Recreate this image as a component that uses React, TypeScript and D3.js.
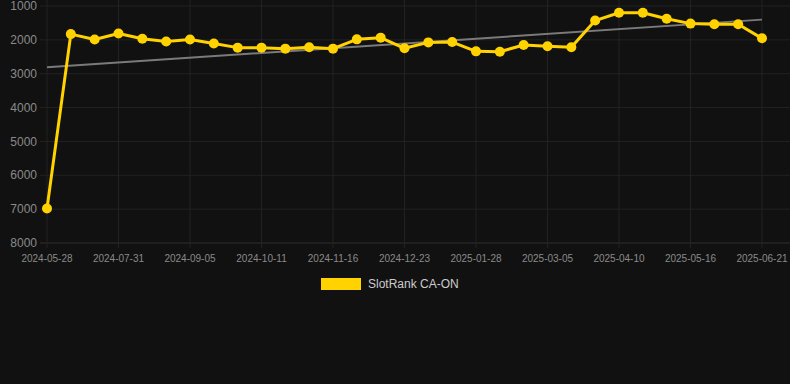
import { useEffect, useRef } from "react";
import * as d3 from "d3";

// category labels for each data point (every 3rd is shown on the axis)
const dates = [
  "2024-05-28", "2024-07-07", "2024-07-19", "2024-07-31", "2024-08-12", "2024-08-24",
  "2024-09-05", "2024-09-17", "2024-09-29", "2024-10-11", "2024-10-23", "2024-11-04",
  "2024-11-16", "2024-11-28", "2024-12-11", "2024-12-23", "2025-01-04", "2025-01-16",
  "2025-01-28", "2025-02-09", "2025-02-21", "2025-03-05", "2025-03-17", "2025-03-29",
  "2025-04-10", "2025-04-22", "2025-05-04", "2025-05-16", "2025-05-28", "2025-06-09",
  "2025-06-21",
];

const ranks = [
  6980, 1830, 1990, 1810, 1965, 2050, 1990, 2110, 2230, 2230, 2260, 2220, 2260, 1985,
  1935, 2250, 2075, 2065, 2340, 2350, 2150, 2190, 2220, 1430, 1200, 1200, 1375, 1520,
  1540, 1540, 1955,
];

const yTicks = [1000, 2000, 3000, 4000, 5000, 6000, 7000, 8000];
const seriesName = "SlotRank CA-ON";

export default function App() {
  const ref = useRef<SVGSVGElement>(null);

  useEffect(() => {
    const svg = d3.select(ref.current);
    svg.selectAll("*").remove();

    const W = 790;
    const H = 384;
    const FONT = "'Liberation Sans', Arial, Helvetica, sans-serif";

    svg.append("rect").attr("width", W).attr("height", H).attr("fill", "#111111");

    const x = d3.scalePoint<string>().domain(dates).range([47, 762]);
    const y = d3.scaleLinear().domain([1000, 8000]).range([6, 243]);

    // grid
    const grid = svg.append("g");
    grid.selectAll("line.h")
      .data(yTicks)
      .join("line")
      .attr("x1", 40)
      .attr("x2", W)
      .attr("y1", d => y(d))
      .attr("y2", d => y(d))
      .attr("stroke", d => (d === 8000 ? "#2e2e2e" : "#222222"))
      .attr("stroke-width", 1);

    const shown = dates.filter((_, i) => i % 3 === 0);
    grid.selectAll("line.v")
      .data(shown)
      .join("line")
      .attr("x1", d => x(d)!)
      .attr("x2", d => x(d)!)
      .attr("y1", 0)
      .attr("y2", 248)
      .attr("stroke", "#222222")
      .attr("stroke-width", 1);

    // y labels
    svg.append("g")
      .selectAll("text")
      .data(yTicks)
      .join("text")
      .attr("x", 37)
      .attr("y", d => y(d))
      .attr("dy", "0.35em")
      .attr("text-anchor", "end")
      .attr("fill", "#8a8a8a")
      .style("font", `12px ${FONT}`)
      .text(d => String(d));

    // x labels
    svg.append("g")
      .selectAll("text")
      .data(shown)
      .join("text")
      .attr("x", d => x(d)!)
      .attr("y", 262)
      .attr("text-anchor", "middle")
      .attr("fill", "#8a8a8a")
      .style("font", `10px ${FONT}`)
      .text(d => d);

    // least-squares trend line
    const n = ranks.length;
    const mx = d3.mean(ranks, (_, i) => i)!;
    const my = d3.mean(ranks)!;
    let num = 0;
    let den = 0;
    ranks.forEach((v, i) => {
      num += (i - mx) * (v - my);
      den += (i - mx) * (i - mx);
    });
    const slope = num / den;
    const trend = [0, n - 1].map(i => ({ i, v: my + slope * (i - mx) }));
    svg.append("path")
      .datum(trend)
      .attr("fill", "none")
      .attr("stroke", "#7a7a7a")
      .attr("stroke-width", 2)
      .attr("d", d3.line<{ i: number; v: number }>()
        .x(d => x(dates[d.i])!)
        .y(d => y(d.v)));

    // series
    const line = d3.line<number>()
      .x((_, i) => x(dates[i])!)
      .y(d => y(d));
    svg.append("path")
      .datum(ranks)
      .attr("fill", "none")
      .attr("stroke", "#FFD200")
      .attr("stroke-width", 3)
      .attr("stroke-linejoin", "round")
      .attr("d", line);

    svg.append("g")
      .selectAll("circle")
      .data(ranks)
      .join("circle")
      .attr("cx", (_, i) => x(dates[i])!)
      .attr("cy", d => y(d))
      .attr("r", 5)
      .attr("fill", "#FFD200");

    // legend
    svg.append("rect")
      .attr("x", 321)
      .attr("y", 278)
      .attr("width", 40)
      .attr("height", 12)
      .attr("fill", "#FFD200");
    svg.append("text")
      .attr("x", 368)
      .attr("y", 284)
      .attr("dy", "0.35em")
      .attr("fill", "#cccccc")
      .style("font", `12px ${FONT}`)
      .text(seriesName);
  }, []);

  return (
    <div style={{ position: "absolute", left: 0, top: 0, width: 790, height: 384 }}>
      <svg ref={ref} width={790} height={384} style={{ display: "block" }} />
    </div>
  );
}
